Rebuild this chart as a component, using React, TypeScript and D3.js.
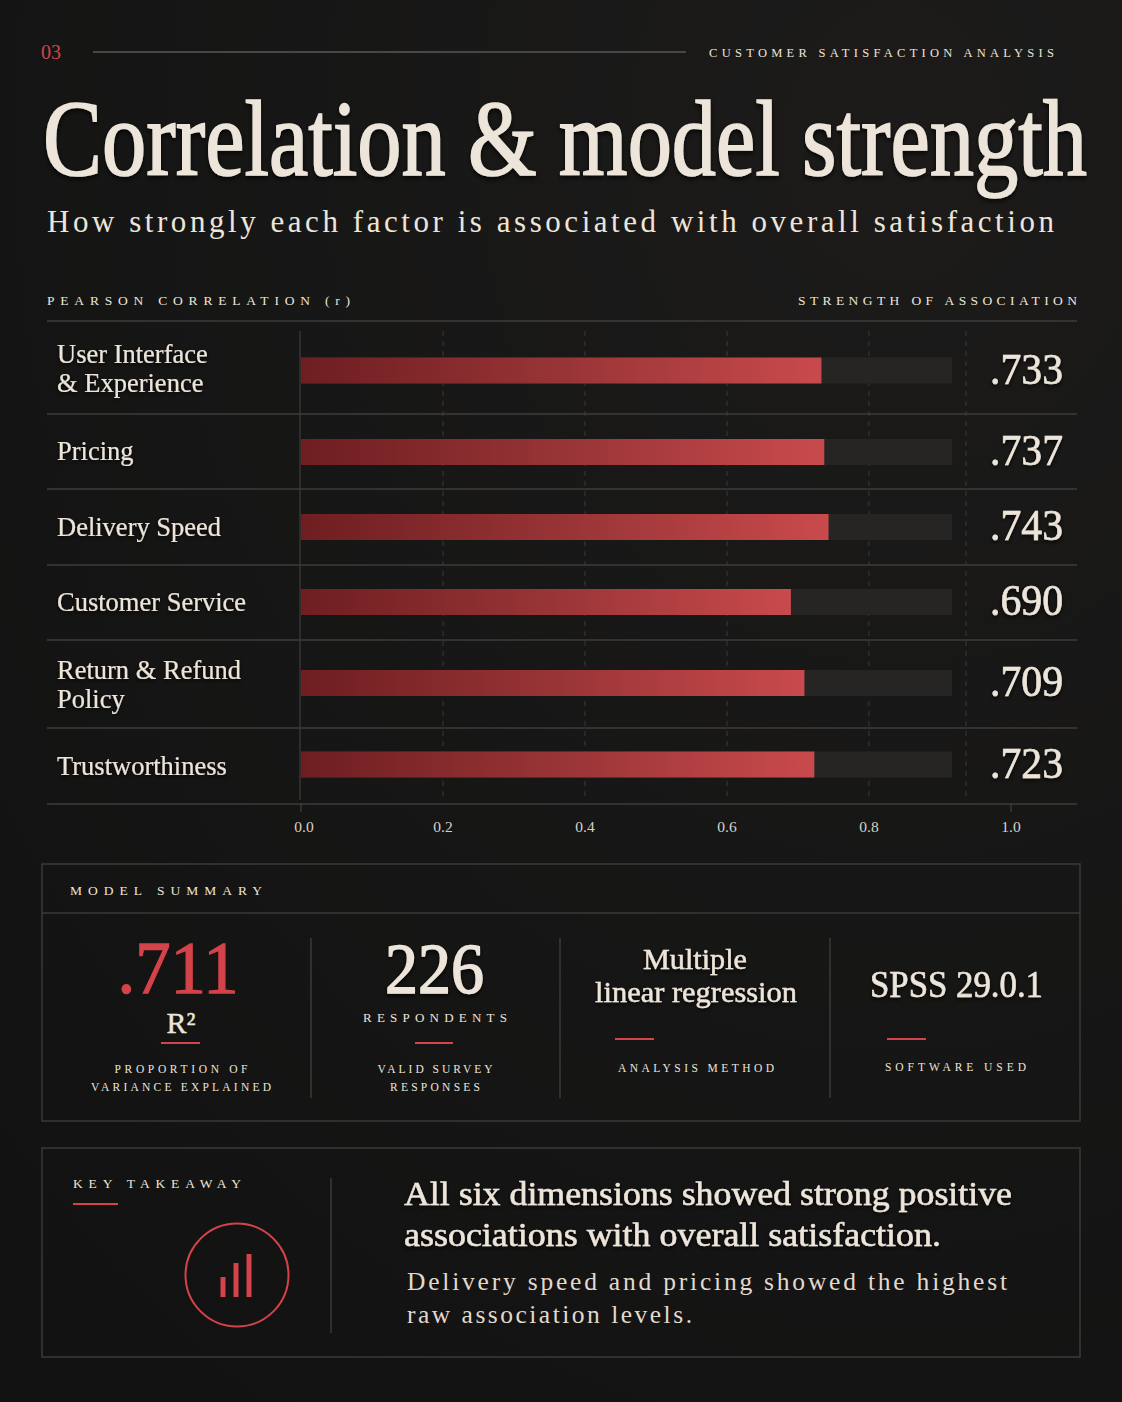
import React from "react";
import * as d3 from "d3";

const W = 1122;
const H = 1402;

// ---- data ----
const factorLabels: string[][] = [
  ["User Interface", "& Experience"],
  ["Pricing"],
  ["Delivery Speed"],
  ["Customer Service"],
  ["Return & Refund", "Policy"],
  ["Trustworthiness"],
];
const correlations = [0.733, 0.737, 0.743, 0.69, 0.709, 0.723];
const valueLabels = [".733", ".737", ".743", ".690", ".709", ".723"];
const axisTicks = [0, 0.2, 0.4, 0.6, 0.8, 1.0];
const gridTicks = [0.2, 0.4, 0.6, 0.8];

const summaryValues = [".711", "226", "Multiple\nlinear regression", "SPSS 29.0.1"];
const summarySub = ["R²", "RESPONDENTS", "", ""];
const summaryNotes = [
  ["PROPORTION OF", "VARIANCE EXPLAINED"],
  ["VALID SURVEY", "RESPONSES"],
  ["ANALYSIS METHOD"],
  ["SOFTWARE USED"],
];

// layout constants
const ROW_HEIGHTS = [93, 75, 76, 75, 88, 76];
const ROW_BAR_OFFSET = [3, 0.5, 0, -0.5, -1, -1.5];

const BG = "#151515";
const CREAM = "#ede5da";
const RED = "#d4434a";
const LINE = "#3f3d3a";
const SERIF = "'Liberation Serif', 'Times New Roman', serif";

export default function App() {
  const x = d3.scaleLinear().domain([0, 1]).range([301, 1011]);

  const top0 = 321;
  const rowTops = [top0, ...Array.from(d3.cumsum(ROW_HEIGHTS)).map((c) => top0 + c)];
  const chartBottom = rowTops[rowTops.length - 1];
  const sepX = 966;
  const trackEnd = 952;
  const barH = 26;

  return (
    <div style={{ position: "absolute", left: 0, top: 0, width: W, height: H, background: BG }}>
      <svg width={W} height={H} viewBox={`0 0 ${W} ${H}`} style={{ display: "block", fontFamily: SERIF }}>
        <defs>
          <radialGradient id="bgGrad" cx="0.8" cy="0.1" r="1.1">
            <stop offset="0" stopColor="#1c1b1a" />
            <stop offset="1" stopColor="#121212" />
          </radialGradient>
          <linearGradient id="barGrad" x1="0" x2="1" y1="0" y2="0">
            <stop offset="0" stopColor="#6e1e21" />
            <stop offset="0.5" stopColor="#983436" />
            <stop offset="1" stopColor="#c94a4c" />
          </linearGradient>
          <filter id="shadow" x="-5%" y="-20%" width="110%" height="150%">
            <feDropShadow dx="0" dy="2" stdDeviation="2" floodColor="#000" floodOpacity="0.8" />
          </filter>
        </defs>
        <rect x={0} y={0} width={W} height={H} fill="url(#bgGrad)" />

        {/* header */}
        <text x={41} y={59} fill={RED} fontSize={20}>03</text>
        <line x1={93} x2={686} y1={52} y2={52} stroke="#5a5754" strokeWidth={1.5} />
        <text x={709} y={57} fill={CREAM} fontSize={12.5} textLength={345} lengthAdjust="spacing">
          CUSTOMER SATISFACTION ANALYSIS
        </text>

        <g transform="translate(43,175) scale(1,1.22)">
          <text x={0} y={0} fill={CREAM} stroke={CREAM} strokeWidth={1.3} fontSize={88} textLength={1044} lengthAdjust="spacingAndGlyphs" filter="url(#shadow)">
            Correlation &amp; model strength
          </text>
        </g>
        <text x={47} y={232} fill={CREAM} fontSize={31} textLength={1007} lengthAdjust="spacing">
          How strongly each factor is associated with overall satisfaction
        </text>

        <text x={47} y={305} fill={CREAM} fontSize={13.5} textLength={303} lengthAdjust="spacing">
          PEARSON CORRELATION (r)
        </text>
        <text x={798} y={305} fill={CREAM} fontSize={13.5} textLength={279} lengthAdjust="spacing">
          STRENGTH OF ASSOCIATION
        </text>

        {/* grid */}
        {gridTicks.map((t) => (
          <line key={t} x1={x(t)} x2={x(t)} y1={331} y2={chartBottom - 8} stroke="#3a3938" strokeDasharray="5 5" strokeWidth={1} />
        ))}
        <line x1={sepX} x2={sepX} y1={331} y2={chartBottom - 8} stroke="#3a3938" strokeDasharray="5 5" strokeWidth={1} />
        <line x1={x(0) - 1} x2={x(0) - 1} y1={331} y2={chartBottom - 4} stroke="#403e3b" strokeWidth={1.2} />

        {/* row separators */}
        {rowTops.map((y, i) => (
          <line key={i} x1={47} x2={1077} y1={y} y2={y} stroke={LINE} strokeWidth={1.3} />
        ))}

        {/* rows */}
        {factorLabels.map((lines, i) => {
          const mid = (rowTops[i] + rowTops[i + 1]) / 2;
          const bc = mid + ROW_BAR_OFFSET[i];
          const by = bc - barH / 2;
          return (
            <g key={i}>
              {lines.length > 1 ? (
                <text fill={CREAM} stroke={CREAM} strokeWidth={0.12} fontSize={26.5} filter="url(#shadow)">
                  <tspan x={57} y={mid - 5}>{lines[0]}</tspan>
                  <tspan x={57} y={mid + 24}>{lines[1]}</tspan>
                </text>
              ) : (
                <text x={57} y={mid + 8.5} fill={CREAM} stroke={CREAM} strokeWidth={0.12} fontSize={26.5} filter="url(#shadow)">{lines[0]}</text>
              )}
              <rect x={x(0)} y={by} width={trackEnd - x(0)} height={barH} fill="#262524" />
              <rect x={x(0)} y={by} width={x(correlations[i]) - x(0)} height={barH} fill="url(#barGrad)" />
              <text x={1063} y={bc + 13} fill={CREAM} stroke={CREAM} strokeWidth={0.6} fontSize={44} textAnchor="end" textLength={73} lengthAdjust="spacingAndGlyphs" filter="url(#shadow)">
                {valueLabels[i]}
              </text>
            </g>
          );
        })}

        {/* axis */}
        {[0, 1].map((t) => (
          <line key={t} x1={x(t)} x2={x(t)} y1={chartBottom} y2={chartBottom + 8} stroke="#4a4845" strokeWidth={1} />
        ))}
        {axisTicks.map((t) => (
          <text key={t} x={x(t) + (t === 0 ? 3 : 0)} y={832} fill="#d9d1c6" fontSize={15.5} textAnchor="middle">
            {d3.format(".1f")(t)}
          </text>
        ))}

        {/* model summary */}
        <rect x={42} y={864} width={1038} height={257} fill="none" stroke="#3c3a37" strokeWidth={1.5} />
        <line x1={42} x2={1080} y1={913} y2={913} stroke="#3c3a37" strokeWidth={1.5} />
        <text x={70} y={895} fill={CREAM} fontSize={13.5} textLength={192} lengthAdjust="spacing">MODEL SUMMARY</text>
        {[311, 560, 830].map((sx) => (
          <line key={sx} x1={sx} x2={sx} y1={938} y2={1098} stroke="#3c3a37" strokeWidth={1.5} />
        ))}

        {/* col 1 */}
        <text x={178} y={993} fill={RED} stroke={RED} strokeWidth={1.4} fontSize={74} textAnchor="middle" textLength={121} lengthAdjust="spacingAndGlyphs">
          {summaryValues[0]}
        </text>
        <text x={181} y={1033} fill={CREAM} stroke={CREAM} strokeWidth={0.4} fontSize={30} textAnchor="middle">{summarySub[0]}</text>
        <line x1={161} x2={200} y1={1043} y2={1043} stroke={RED} strokeWidth={2} />
        <text x={181} y={1073} fill={CREAM} fontSize={11.5} textAnchor="middle" textLength={133} lengthAdjust="spacing">{summaryNotes[0][0]}</text>
        <text x={181} y={1091} fill={CREAM} fontSize={11.5} textAnchor="middle" textLength={180} lengthAdjust="spacing">{summaryNotes[0][1]}</text>

        {/* col 2 */}
        <text x={434.5} y={993} fill={CREAM} stroke={CREAM} strokeWidth={1.4} fontSize={72} textAnchor="middle" textLength={99} lengthAdjust="spacingAndGlyphs" filter="url(#shadow)">
          {summaryValues[1]}
        </text>
        <text x={435} y={1022} fill={CREAM} fontSize={13} textAnchor="middle" textLength={144} lengthAdjust="spacing">{summarySub[1]}</text>
        <line x1={415} x2={453} y1={1043} y2={1043} stroke={RED} strokeWidth={2} />
        <text x={435} y={1073} fill={CREAM} fontSize={11.5} textAnchor="middle" textLength={115} lengthAdjust="spacing">{summaryNotes[1][0]}</text>
        <text x={435} y={1091} fill={CREAM} fontSize={11.5} textAnchor="middle" textLength={90} lengthAdjust="spacing">{summaryNotes[1][1]}</text>

        {/* col 3 */}
        <text x={695} y={969} fill={CREAM} stroke={CREAM} strokeWidth={0.4} fontSize={30} textAnchor="middle" textLength={104} lengthAdjust="spacingAndGlyphs" filter="url(#shadow)">
          {summaryValues[2].split("\n")[0]}
        </text>
        <text x={696} y={1002} fill={CREAM} stroke={CREAM} strokeWidth={0.4} fontSize={30} textAnchor="middle" textLength={202} lengthAdjust="spacingAndGlyphs" filter="url(#shadow)">
          {summaryValues[2].split("\n")[1]}
        </text>
        <line x1={615} x2={654} y1={1039} y2={1039} stroke={RED} strokeWidth={2} />
        <text x={696} y={1072} fill={CREAM} fontSize={11.5} textAnchor="middle" textLength={156} lengthAdjust="spacing">{summaryNotes[2][0]}</text>

        {/* col 4 */}
        <text x={956.5} y={997} fill={CREAM} stroke={CREAM} strokeWidth={0.6} fontSize={37} textAnchor="middle" textLength={173} lengthAdjust="spacingAndGlyphs" filter="url(#shadow)">
          {summaryValues[3]}
        </text>
        <line x1={887} x2={926} y1={1039} y2={1039} stroke={RED} strokeWidth={2} />
        <text x={955.5} y={1071} fill={CREAM} fontSize={11.5} textAnchor="middle" textLength={141} lengthAdjust="spacing">{summaryNotes[3][0]}</text>

        {/* key takeaway */}
        <rect x={42} y={1148} width={1038} height={209} fill="none" stroke="#3c3a37" strokeWidth={1.5} />
        <text x={73} y={1188} fill={CREAM} fontSize={13.5} textLength={168} lengthAdjust="spacing">KEY TAKEAWAY</text>
        <line x1={73} x2={118} y1={1204} y2={1204} stroke={RED} strokeWidth={2} />
        <circle cx={237} cy={1275} r={51.5} fill="none" stroke={RED} strokeWidth={2} />
        {[
          [223, 1277],
          [236, 1263],
          [249, 1254],
        ].map(([cx, ty], i) => (
          <rect key={i} x={cx - 2.5} y={ty} width={5} height={1297 - ty} fill={RED} />
        ))}
        <line x1={331} x2={331} y1={1178} y2={1333} stroke="#3c3a37" strokeWidth={1.5} />

        <text x={404} y={1205} fill={CREAM} stroke={CREAM} strokeWidth={0.5} fontSize={33} textLength={608} lengthAdjust="spacingAndGlyphs" filter="url(#shadow)">
          All six dimensions showed strong positive
        </text>
        <text x={404} y={1246} fill={CREAM} stroke={CREAM} strokeWidth={0.5} fontSize={33} textLength={537} lengthAdjust="spacingAndGlyphs" filter="url(#shadow)">
          associations with overall satisfaction.
        </text>
        <text x={407} y={1290} fill="#e2dace" fontSize={25.5} textLength={600} lengthAdjust="spacing">
          Delivery speed and pricing showed the highest
        </text>
        <text x={407} y={1323} fill="#e2dace" fontSize={25.5} textLength={285} lengthAdjust="spacing">
          raw association levels.
        </text>
      </svg>
    </div>
  );
}
